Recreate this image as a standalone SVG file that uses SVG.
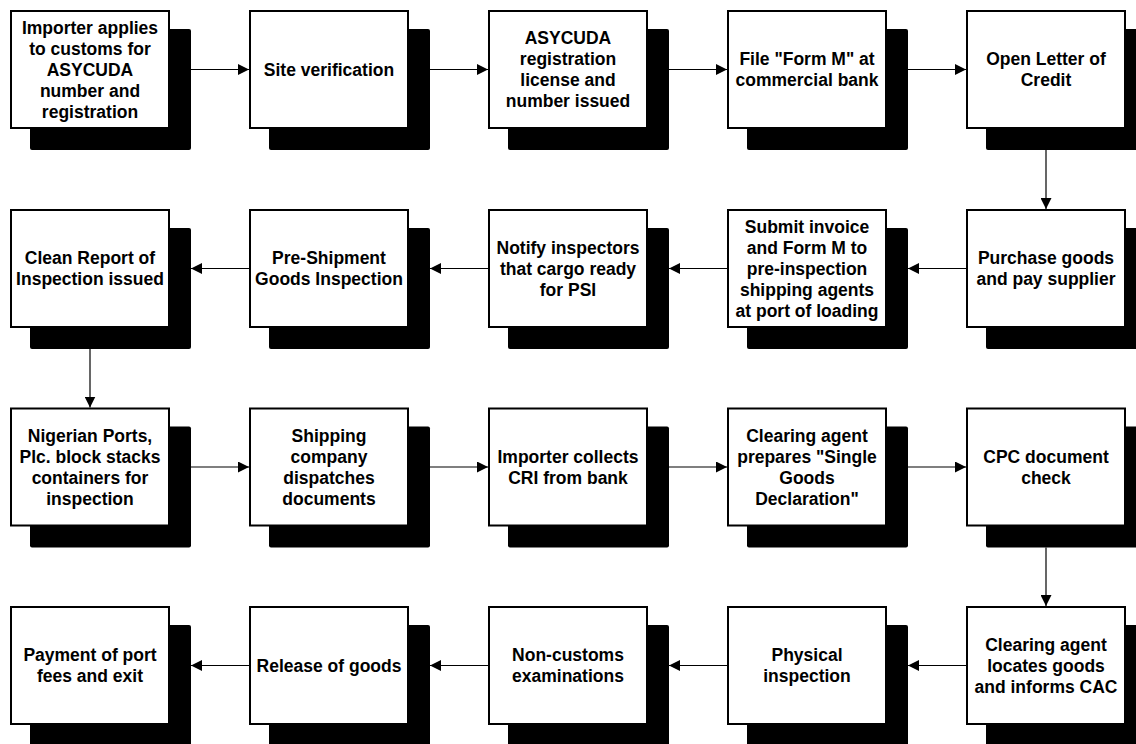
<svg xmlns="http://www.w3.org/2000/svg" width="1136" height="744" viewBox="0 0 1136 744">
  <style>
    .shadow { fill: #000; }
    .box { fill: #fff; stroke: #000; stroke-width: 2; }
    .label { font-family: "Liberation Sans", Arial, sans-serif; font-weight: bold; font-size: 17.5px; fill: #000; text-anchor: middle; }
    .conn { fill: none; stroke: #000; stroke-width: 1.2; marker-end: url(#arrow); }
  </style>
  <defs>
    <marker id="arrow" markerUnits="userSpaceOnUse" markerWidth="11" markerHeight="11" refX="11" refY="5.5" orient="auto">
      <path d="M0,0 L11,5.5 L0,11 Z" fill="#000"/>
    </marker>
  </defs>
  <rect width="1136" height="744" fill="#fff"/>

  <!-- connectors -->
  <g id="connectors">
    <path class="conn" d="M191,69.5 H249"/>
    <path class="conn" d="M430,69.5 H488"/>
    <path class="conn" d="M669,69.5 H727"/>
    <path class="conn" d="M908,69.5 H966"/>
    <path class="conn" d="M1046,150 V209"/>
    <path class="conn" d="M966,268.5 H908"/>
    <path class="conn" d="M727,268.5 H669"/>
    <path class="conn" d="M488,268.5 H430"/>
    <path class="conn" d="M249,268.5 H191"/>
    <path class="conn" d="M90,349 V407.5"/>
    <path class="conn" d="M191,467 H249"/>
    <path class="conn" d="M430,467 H488"/>
    <path class="conn" d="M669,467 H727"/>
    <path class="conn" d="M908,467 H966"/>
    <path class="conn" d="M1046,547.5 V606"/>
    <path class="conn" d="M966,665.5 H908"/>
    <path class="conn" d="M727,665.5 H669"/>
    <path class="conn" d="M488,665.5 H430"/>
    <path class="conn" d="M249,665.5 H191"/>
  </g>

  <!-- row 1 -->
  <g id="n1">
    <rect class="shadow" x="30" y="29" width="161" height="121" rx="2"/>
    <rect class="box" x="11" y="11" width="158" height="117"/>
    <text class="label"><tspan x="90" y="33.5">Importer applies</tspan><tspan x="90" y="54.5">to customs for</tspan><tspan x="90" y="75.5">ASYCUDA</tspan><tspan x="90" y="96.5">number and</tspan><tspan x="90" y="117.5">registration</tspan></text>
  </g>
  <g id="n2">
    <rect class="shadow" x="269" y="29" width="161" height="121" rx="2"/>
    <rect class="box" x="250" y="11" width="158" height="117"/>
    <text class="label"><tspan x="329" y="75.5">Site verification</tspan></text>
  </g>
  <g id="n3">
    <rect class="shadow" x="508" y="29" width="161" height="121" rx="2"/>
    <rect class="box" x="489" y="11" width="158" height="117"/>
    <text class="label"><tspan x="568" y="44">ASYCUDA</tspan><tspan x="568" y="65">registration</tspan><tspan x="568" y="86">license and</tspan><tspan x="568" y="107">number issued</tspan></text>
  </g>
  <g id="n4">
    <rect class="shadow" x="747" y="29" width="161" height="121" rx="2"/>
    <rect class="box" x="728" y="11" width="158" height="117"/>
    <text class="label"><tspan x="807" y="65">File "Form M" at</tspan><tspan x="807" y="86">commercial bank</tspan></text>
  </g>
  <g id="n5">
    <rect class="shadow" x="986" y="29" width="161" height="121" rx="2"/>
    <rect class="box" x="967" y="11" width="158" height="117"/>
    <text class="label"><tspan x="1046" y="65">Open Letter of</tspan><tspan x="1046" y="86">Credit</tspan></text>
  </g>

  <!-- row 2 -->
  <g id="n6">
    <rect class="shadow" x="986" y="228" width="161" height="121" rx="2"/>
    <rect class="box" x="967" y="210" width="158" height="117"/>
    <text class="label"><tspan x="1046" y="264">Purchase goods</tspan><tspan x="1046" y="285">and pay supplier</tspan></text>
  </g>
  <g id="n7">
    <rect class="shadow" x="747" y="228" width="161" height="121" rx="2"/>
    <rect class="box" x="728" y="210" width="158" height="117"/>
    <text class="label"><tspan x="807" y="232.5">Submit invoice</tspan><tspan x="807" y="253.5">and Form M to</tspan><tspan x="807" y="274.5">pre-inspection</tspan><tspan x="807" y="295.5">shipping agents</tspan><tspan x="807" y="316.5">at port of loading</tspan></text>
  </g>
  <g id="n8">
    <rect class="shadow" x="508" y="228" width="161" height="121" rx="2"/>
    <rect class="box" x="489" y="210" width="158" height="117"/>
    <text class="label"><tspan x="568" y="253.5">Notify inspectors</tspan><tspan x="568" y="274.5">that cargo ready</tspan><tspan x="568" y="295.5">for PSI</tspan></text>
  </g>
  <g id="n9">
    <rect class="shadow" x="269" y="228" width="161" height="121" rx="2"/>
    <rect class="box" x="250" y="210" width="158" height="117"/>
    <text class="label"><tspan x="329" y="264">Pre-Shipment</tspan><tspan x="329" y="285">Goods Inspection</tspan></text>
  </g>
  <g id="n10">
    <rect class="shadow" x="30" y="228" width="161" height="121" rx="2"/>
    <rect class="box" x="11" y="210" width="158" height="117"/>
    <text class="label"><tspan x="90" y="264">Clean Report of</tspan><tspan x="90" y="285">Inspection issued</tspan></text>
  </g>

  <!-- row 3 -->
  <g id="n11">
    <rect class="shadow" x="30" y="426.5" width="161" height="121" rx="2"/>
    <rect class="box" x="11" y="408.5" width="158" height="117"/>
    <text class="label"><tspan x="90" y="441.5">Nigerian Ports,</tspan><tspan x="90" y="462.5">Plc. block stacks</tspan><tspan x="90" y="483.5">containers for</tspan><tspan x="90" y="504.5">inspection</tspan></text>
  </g>
  <g id="n12">
    <rect class="shadow" x="269" y="426.5" width="161" height="121" rx="2"/>
    <rect class="box" x="250" y="408.5" width="158" height="117"/>
    <text class="label"><tspan x="329" y="441.5">Shipping</tspan><tspan x="329" y="462.5">company</tspan><tspan x="329" y="483.5">dispatches</tspan><tspan x="329" y="504.5">documents</tspan></text>
  </g>
  <g id="n13">
    <rect class="shadow" x="508" y="426.5" width="161" height="121" rx="2"/>
    <rect class="box" x="489" y="408.5" width="158" height="117"/>
    <text class="label"><tspan x="568" y="462.5">Importer collects</tspan><tspan x="568" y="483.5">CRI from bank</tspan></text>
  </g>
  <g id="n14">
    <rect class="shadow" x="747" y="426.5" width="161" height="121" rx="2"/>
    <rect class="box" x="728" y="408.5" width="158" height="117"/>
    <text class="label"><tspan x="807" y="441.5">Clearing agent</tspan><tspan x="807" y="462.5">prepares "Single</tspan><tspan x="807" y="483.5">Goods</tspan><tspan x="807" y="504.5">Declaration"</tspan></text>
  </g>
  <g id="n15">
    <rect class="shadow" x="986" y="426.5" width="161" height="121" rx="2"/>
    <rect class="box" x="967" y="408.5" width="158" height="117"/>
    <text class="label"><tspan x="1046" y="462.5">CPC document</tspan><tspan x="1046" y="483.5">check</tspan></text>
  </g>

  <!-- row 4 -->
  <g id="n16">
    <rect class="shadow" x="986" y="625" width="161" height="121" rx="2"/>
    <rect class="box" x="967" y="607" width="158" height="117"/>
    <text class="label"><tspan x="1046" y="650.5">Clearing agent</tspan><tspan x="1046" y="671.5">locates goods</tspan><tspan x="1046" y="692.5">and informs CAC</tspan></text>
  </g>
  <g id="n17">
    <rect class="shadow" x="747" y="625" width="161" height="121" rx="2"/>
    <rect class="box" x="728" y="607" width="158" height="117"/>
    <text class="label"><tspan x="807" y="661">Physical</tspan><tspan x="807" y="682">inspection</tspan></text>
  </g>
  <g id="n18">
    <rect class="shadow" x="508" y="625" width="161" height="121" rx="2"/>
    <rect class="box" x="489" y="607" width="158" height="117"/>
    <text class="label"><tspan x="568" y="661">Non-customs</tspan><tspan x="568" y="682">examinations</tspan></text>
  </g>
  <g id="n19">
    <rect class="shadow" x="269" y="625" width="161" height="121" rx="2"/>
    <rect class="box" x="250" y="607" width="158" height="117"/>
    <text class="label"><tspan x="329" y="671.5">Release of goods</tspan></text>
  </g>
  <g id="n20">
    <rect class="shadow" x="30" y="625" width="161" height="121" rx="2"/>
    <rect class="box" x="11" y="607" width="158" height="117"/>
    <text class="label"><tspan x="90" y="661">Payment of port</tspan><tspan x="90" y="682">fees and exit</tspan></text>
  </g>
</svg>
